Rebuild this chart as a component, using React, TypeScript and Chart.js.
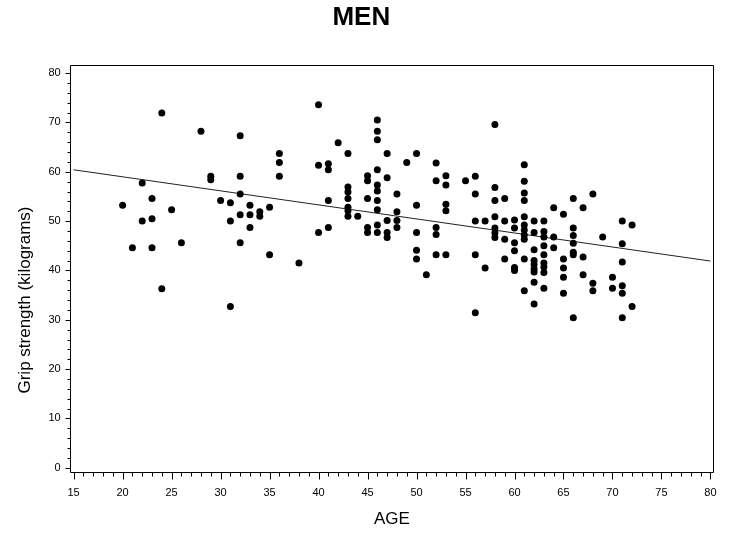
import { useEffect, useRef } from 'react';
import { Chart, registerables } from 'chart.js';

Chart.register(...registerables);

// ---- data ----
const ages = [
  20, 21, 22, 22, 23, 23, 23, 24, 24, 25, 26, 28, 29, 29, 30, 31, 31, 31,
  32, 32, 32, 32, 32, 33, 33, 33, 34, 34, 35, 35, 36, 36, 36, 38,
  40, 40, 40, 41, 41, 41, 41, 42, 43, 43, 43, 43, 43, 43, 43, 44,
  45, 45, 45, 45, 45, 46, 46, 46, 46, 46, 46, 46, 46, 46, 46,
  47, 47, 47, 47, 47, 48, 48, 48, 48, 49, 50, 50, 50, 50, 50, 51,
  52, 52, 52, 52, 52, 53, 53, 53, 53, 53, 55, 56, 56, 56, 56, 56, 57, 57,
  58, 58, 58, 58, 58, 58, 58, 59, 59, 59, 59, 60, 60, 60, 60, 60, 60,
  61, 61, 61, 61, 61, 61, 61, 61, 61, 61, 61,
  62, 62, 62, 62, 62, 62, 62, 62, 62,
  63, 63, 63, 63, 63, 63, 63, 63, 63,
  64, 64, 64, 65, 65, 65, 65, 65, 66, 66, 66, 66, 66, 66, 66,
  67, 67, 67, 68, 68, 68, 69, 70, 70, 71, 71, 71, 71, 71, 71, 72, 72,
];
const grip = [
  53.2, 44.6, 57.7, 50.0, 54.6, 50.5, 44.6, 71.9, 36.3, 52.3, 45.6, 68.2, 59.1, 58.4, 54.2, 53.7, 50.0, 32.7,
  67.3, 59.1, 55.5, 51.3, 45.6, 53.2, 51.3, 48.7, 51.9, 51.0, 52.8, 43.2, 63.7, 61.9, 59.1, 41.5,
  73.6, 61.3, 47.7, 61.6, 60.4, 54.2, 48.7, 65.9, 63.7, 56.9, 55.9, 54.6, 52.8, 52.1, 51.0, 51.0,
  59.2, 58.2, 54.6, 48.7, 47.7, 70.5, 68.2, 66.5, 60.4, 57.3, 56.1, 54.2, 52.3, 49.2, 47.7,
  63.7, 58.8, 50.1, 47.7, 46.7, 55.5, 51.9, 50.1, 48.7, 61.9, 63.7, 53.2, 47.7, 44.1, 42.3, 39.1,
  61.8, 58.2, 48.7, 47.3, 43.2, 59.2, 57.3, 53.4, 52.1, 43.2, 58.2, 59.1, 55.5, 50.0, 43.2, 31.4, 50.0, 40.5,
  69.6, 56.8, 54.2, 50.9, 48.6, 47.6, 46.7, 54.6, 50.0, 46.3, 42.3, 50.2, 48.6, 45.6, 44.0, 40.6, 40.0,
  61.4, 58.1, 55.7, 54.2, 50.9, 49.2, 48.2, 47.2, 46.3, 42.3, 35.9,
  50.0, 47.7, 44.2, 42.0, 41.2, 40.3, 39.7, 37.6, 33.2,
  50.0, 47.9, 46.8, 45.0, 43.2, 41.5, 40.7, 39.6, 36.4,
  52.7, 46.8, 44.6, 51.4, 42.3, 40.5, 38.6, 35.4, 54.6, 48.6, 47.1, 45.5, 43.7, 43.2, 30.4,
  52.7, 42.7, 39.1, 55.5, 37.4, 35.9, 46.8, 38.6, 36.4, 50.0, 45.4, 41.7, 36.9, 35.4, 30.4, 49.2, 32.7,
];
const fitAges = [15, 80];
const fitGrip = [60.4, 41.9];
const xTicks = [15, 20, 25, 30, 35, 40, 45, 50, 55, 60, 65, 70, 75, 80];
const yTicks = [0, 10, 20, 30, 40, 50, 60, 70, 80];
const xMinorStep = 1;
const yMinorStep = 2;
const titleText = 'MEN';
const xTitle = 'AGE';
const yTitle = 'Grip strength (kilograms)';

const FONT = '"Liberation Sans", Arial, Helvetica, sans-serif';

export default function App() {
  const ref = useRef<HTMLCanvasElement>(null);

  useEffect(() => {
    document.body.style.margin = '0';
    const canvas = ref.current;
    if (!canvas) return;

    const framePlugin = {
      id: 'frameAndMinorTicks',
      afterDraw(chart: any) {
        const { ctx, chartArea: a, scales } = chart;
        const xs = scales.x;
        const ys = scales.y;
        const L = Math.floor(a.left) + 0.5;
        const R = Math.floor(a.right) + 0.5;
        const T = Math.floor(a.top) + 0.5;
        const B = Math.floor(a.bottom) + 0.5;
        ctx.save();
        ctx.strokeStyle = '#000';
        ctx.lineWidth = 1;
        ctx.beginPath();
        ctx.moveTo(L, T);
        ctx.lineTo(R, T);
        ctx.lineTo(R, B);
        ctx.lineTo(L, B);
        ctx.closePath();
        ctx.stroke();
        // x ticks
        ctx.beginPath();
        for (let v = xTicks[0]; v <= xTicks[xTicks.length - 1] + 1e-9; v += xMinorStep) {
          const px = Math.round(xs.getPixelForValue(v)) + 0.5;
          const major = xTicks.includes(v);
          ctx.moveTo(px, B);
          ctx.lineTo(px, B + (major ? 7 : 4));
        }
        // y ticks
        for (let v = yTicks[0]; v <= yTicks[yTicks.length - 1] + 1e-9; v += yMinorStep) {
          const py = Math.round(ys.getPixelForValue(v)) + 0.5;
          const major = yTicks.includes(v);
          ctx.moveTo(L, py);
          ctx.lineTo(L - (major ? 5 : 3), py);
        }
        ctx.stroke();
        // y axis title
        ctx.fillStyle = '#000';
        ctx.font = `17px ${FONT}`;
        ctx.textAlign = 'center';
        ctx.textBaseline = 'middle';
        ctx.translate(25, 300);
        ctx.rotate(-Math.PI / 2);
        ctx.fillText(yTitle, 0, 0);
        ctx.restore();
      },
    };

    const chart = new Chart(canvas, {
      type: 'scatter',
      data: {
        datasets: [
          {
            type: 'scatter',
            data: ages.map((a, i) => ({ x: a, y: grip[i] })),
            pointRadius: 3.5,
            pointHoverRadius: 3.5,
            backgroundColor: '#000',
            borderColor: '#000',
            borderWidth: 0,
          },
          {
            type: 'line',
            data: fitAges.map((a, i) => ({ x: a, y: fitGrip[i] })),
            borderColor: '#222',
            borderWidth: 1,
            pointRadius: 0,
            fill: false,
          } as any,
        ],
      },
      options: {
        responsive: false,
        animation: false,
        devicePixelRatio: 1,
        layout: { padding: { left: 0, right: 7.3, top: 0, bottom: 0 } },
        plugins: {
          legend: { display: false },
          tooltip: { enabled: false },
          title: {
            display: true,
            text: titleText,
            color: '#000',
            font: { family: FONT, size: 26, weight: 'bold' },
            padding: { top: 2, bottom: 32.5 },
          },
        },
        scales: {
          x: {
            type: 'linear',
            min: 14.63,
            max: 80.34,
            grid: { display: false, drawTicks: false },
            border: { display: false },
            afterBuildTicks: (s: any) => {
              s.ticks = xTicks.map((v) => ({ value: v }));
            },
            afterFit: (s: any) => {
              s.height = 66.3;
            },
            ticks: {
              color: '#000',
              font: { family: FONT, size: 11 },
              padding: 13.4,
              maxRotation: 0,
              autoSkip: false,
              callback: (v: any) => String(v),
            },
            title: {
              display: true,
              text: xTitle,
              color: '#000',
              font: { family: FONT, size: 17 },
              padding: { top: 0, bottom: 9 },
            },
          },
          y: {
            type: 'linear',
            min: -1.0,
            max: 81.5,
            grid: { display: false, drawTicks: false },
            border: { display: false },
            afterBuildTicks: (s: any) => {
              s.ticks = yTicks.map((v) => ({ value: v }));
            },
            afterFit: (s: any) => {
              s.width = 70;
            },
            ticks: {
              color: '#000',
              font: { family: FONT, size: 11 },
              padding: 9.3,
              autoSkip: false,
              callback: (v: any) => String(v),
            },
          },
        },
      } as any,
      plugins: [framePlugin],
    });

    return () => chart.destroy();
  }, []);

  return (
    <div style={{ width: 730, height: 539, position: 'relative' }}>
      <canvas ref={ref} width={730} height={539} style={{ width: 730, height: 539, display: 'block' }} />
    </div>
  );
}
